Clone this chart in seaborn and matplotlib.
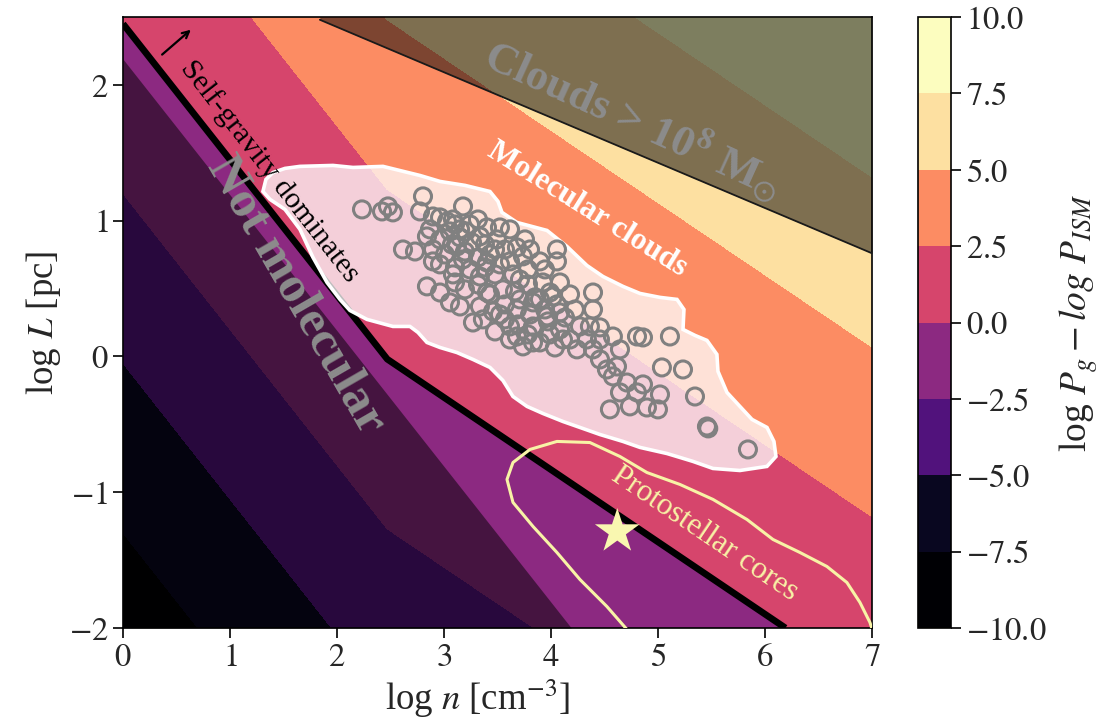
import numpy as np
import matplotlib
matplotlib.use("Agg")
import matplotlib.pyplot as plt
from matplotlib.ticker import FuncFormatter
import seaborn as sns

# ---------------- data ----------------
# pressure-ratio field log P_g - log P_ISM tabulated at grid nodes
grid_logn = [0.0, 2.47, 7.0]
grid_logL = [-2.0, 2.5]
grid_dP = [[-8.9, -3.96, 0.86],
           [0.1, 5.04, 9.86]]
levels = [-10.0, -7.5, -5.0, -2.5, 0.0, 2.5, 5.0, 7.5, 10.0]
level_cmap_pos = [0.0, 0.06, 0.25, 0.40, 0.58, 0.76, 0.935, 1.0]

# "not molecular" boundary (column-density limit)
notmol_logn = [0.0, 4.19]
notmol_logL = [2.19, -2.0]
# 1e8 Msun mass limit
mass_logn = [1.84, 7.0]
mass_logL = [2.48, 0.76]

# molecular cloud sample
cloud_logn = [2.234, 2.421, 2.477, 2.523, 2.804, 2.776, 3.178, 2.963, 3.028, 3.103,
              3.243, 3.318, 3.402, 3.206, 3.056, 2.869, 2.841, 2.963, 3.075, 3.150,
              3.262, 3.383, 3.495, 3.570, 3.682, 2.897, 2.617, 2.729, 3.009, 3.196,
              3.318, 3.430, 3.738, 4.056, 4.056, 3.785, 3.523, 3.617, 2.963, 3.103,
              3.243, 3.383, 3.477, 3.645, 3.944, 2.841, 2.963, 3.103, 3.196, 3.318,
              3.430, 3.551, 3.664, 3.785, 3.925, 3.991, 4.393, 3.850, 3.710, 3.570,
              3.150, 3.271, 3.364, 3.458, 3.682, 3.804, 3.944, 4.056, 4.131, 4.393,
              3.972, 3.850, 3.692, 3.570, 4.271, 4.364, 4.458, 3.682, 3.832, 3.897,
              4.112, 4.243, 4.336, 4.393, 4.458, 4.579, 4.804, 4.860, 5.112, 3.738,
              3.617, 3.991, 4.523, 4.617, 4.579, 4.710, 4.804, 4.645, 4.551, 4.738,
              5.037, 5.234, 4.860, 5.019, 4.897, 5.000, 5.346, 5.458, 5.470, 5.841,
              2.897, 3.084, 3.150, 3.336, 3.121, 2.897, 3.178, 3.402, 3.084, 3.336,
              3.402, 3.056, 3.336, 3.477, 3.804, 3.897, 3.710, 4.084, 3.523, 3.897,
              4.178, 4.224, 4.084, 3.785, 3.477, 4.178, 4.037, 4.645, 4.458, 3.617,
              3.757, 3.523, 4.019, 3.832, 3.963, 4.084, 3.617, 3.832]
cloud_logL = [1.083, 1.068, 1.105, 1.061, 1.179, 1.068, 1.105, 1.024, 0.994, 0.972,
              0.972, 1.009, 0.950, 0.921, 0.921, 0.936, 0.884, 0.862, 0.825, 0.877,
              0.840, 0.825, 0.862, 0.788, 0.803, 0.788, 0.788, 0.773, 0.751, 0.773,
              0.729, 0.751, 0.737, 0.788, 0.700, 0.641, 0.678, 0.700, 0.678, 0.656,
              0.641, 0.656, 0.604, 0.604, 0.641, 0.516, 0.471, 0.545, 0.494, 0.530,
              0.457, 0.494, 0.479, 0.530, 0.545, 0.471, 0.471, 0.435, 0.420, 0.383,
              0.368, 0.250, 0.273, 0.331, 0.346, 0.309, 0.346, 0.383, 0.287, 0.346,
              0.258, 0.214, 0.236, 0.273, 0.221, 0.221, 0.214, 0.147, 0.103, 0.103,
              0.125, 0.052, 0.125, 0.052, 0.125, 0.147, 0.147, 0.140, 0.147, 0.074,
              0.125, 0.162, -0.096, -0.074, -0.147, -0.192, -0.265, -0.265, -0.390, -0.368,
              -0.081, -0.096, -0.206, -0.280, -0.376, -0.390, -0.295, -0.516, -0.530, -0.685,
              1.031, 1.009, 0.936, 0.884, 0.810, 0.700, 0.715, 0.692, 0.604, 0.589,
              0.471, 0.398, 0.368, 0.788, 0.788, 0.700, 0.567, 0.545, 0.309, 0.420,
              0.457, 0.346, 0.199, 0.162, 0.184, 0.125, 0.066, 0.052, -0.022, 0.936,
              0.862, 0.950, 0.442, 0.398, 0.295, 0.324, 0.221, 0.221]

# outline of the molecular-cloud region
region_logn = [1.308, 1.336, 1.402, 1.514, 1.654, 1.963, 2.150, 2.430, 2.776, 2.963,
               3.196, 3.430, 3.505, 3.542, 3.682, 3.963, 4.150, 4.336, 4.486, 4.673,
               4.832, 5.019, 5.178, 5.243, 5.234, 5.346, 5.458, 5.551, 5.561, 5.645,
               5.766, 5.879, 6.019, 6.084, 6.103, 6.019, 5.766, 5.514, 5.327, 5.206,
               5.084, 4.832, 4.673, 4.458, 4.271, 4.112, 3.925, 3.776, 3.645, 3.551,
               3.430, 3.271, 3.121, 2.963, 2.841, 2.757, 2.682, 2.523, 2.280, 2.121,
               2.028, 1.907, 1.776, 1.654, 1.514, 1.374]
region_logL = [1.215, 1.304, 1.355, 1.385, 1.400, 1.407, 1.392, 1.400, 1.333, 1.289,
               1.260, 1.215, 1.142, 1.061, 0.987, 0.928, 0.810, 0.670, 0.589, 0.516,
               0.464, 0.435, 0.420, 0.346, 0.199, 0.155, 0.118, 0.015, -0.110, -0.265,
               -0.368, -0.464, -0.523, -0.626, -0.737, -0.810, -0.840, -0.825, -0.773, -0.744,
               -0.715, -0.670, -0.626, -0.575, -0.523, -0.479, -0.420, -0.368, -0.295, -0.177,
               -0.081, -0.022, 0.029, 0.066, 0.103, 0.177, 0.221, 0.221, 0.273, 0.339,
               0.420, 0.545, 0.729, 0.936, 1.083, 1.157]

# protostellar-core locus
cores_logn = [4.710, 4.523, 4.271, 4.056, 3.832, 3.645, 3.589, 3.645, 3.804, 4.056,
              4.364, 4.645, 4.897, 5.206, 5.514, 5.832, 6.075, 6.327, 6.579, 6.766,
              6.888, 6.981, 7.010]
cores_logL = [-2.011, -1.842, -1.643, -1.444, -1.252, -1.075, -0.906, -0.781, -0.685, -0.626,
              -0.634, -0.737, -0.855, -0.943, -1.053, -1.201, -1.348, -1.444, -1.547, -1.665,
              -1.812, -1.959, -2.030]
star_logn = [4.62]
star_logL = [-1.29]

# ---------------- styling ----------------
sns.set_theme(style="ticks")
plt.rcParams["font.family"] = ["Liberation Serif", "DejaVu Serif"]
plt.rcParams["mathtext.fontset"] = "stix"
plt.rcParams["axes.unicode_minus"] = True

fig = plt.figure(figsize=(11.04, 7.28), dpi=100)
ax = fig.add_axes([0.1114, 0.1374, 0.6784, 0.8392])
cax = fig.add_axes([0.8315, 0.1374, 0.0299, 0.8392])

cmap = sns.color_palette("magma", as_cmap=True)
fill_colors = [cmap(p) for p in level_cmap_pos]

cf = ax.contourf(grid_logn, grid_logL, grid_dP, levels=levels, colors=fill_colors, zorder=1)

# shaded exclusion regions
ax.fill_between(notmol_logn, notmol_logL, -2.0, color="black", alpha=0.5, lw=0, zorder=2)
ax.fill_between(mass_logn, mass_logL, 2.5, color="black", alpha=0.5, lw=0, zorder=2)
sns.lineplot(x=mass_logn, y=mass_logL, ax=ax, color="#1a1a1a", lw=1.3, zorder=3,
             sort=False, estimator=None)

# self-gravity boundary (dP = 0)
ax.contour(grid_logn, grid_logL, grid_dP, levels=[0.0], colors="black", linewidths=4.8, zorder=3)

# molecular cloud region
ax.fill(region_logn, region_logL, facecolor=(1, 1, 1, 0.75), edgecolor="white", lw=2.6, zorder=4)

sns.scatterplot(x=cloud_logn, y=cloud_logL, ax=ax, marker="o", s=150,
                facecolor="none", edgecolor="#808080", linewidth=2.2, zorder=5)

sns.lineplot(x=cores_logn, y=cores_logL, ax=ax, color="#f8f3a6", lw=2.2, sort=False,
             estimator=None, zorder=6)
sns.scatterplot(x=star_logn, y=star_logL, ax=ax, marker="*", s=1150, color="#f9f7b0",
                edgecolor="none", zorder=7)

# annotations
ax.annotate("", xy=(0.654, 2.42), xytext=(0.346, 2.21),
            arrowprops=dict(arrowstyle="->", lw=1.6, color="black"), zorder=8)
ax.text(1.37, 1.36, "Self-gravity dominates", rotation=-52, rotation_mode="anchor",
        ha="center", va="center", fontsize=21.5, color="black", zorder=8)
ax.text(1.62, 0.45, "Not molecular", rotation=-60, rotation_mode="anchor",
        ha="center", va="center", fontsize=37, fontweight="bold", color="#8c8c8c", zorder=8)
ax.text(4.77, 1.75, r"Clouds > 10$^{\mathbf{8}}$ M$_{\odot}$", rotation=-24.5, rotation_mode="anchor",
        ha="center", va="center", fontsize=32, fontweight="bold", color="#8c8c8c", zorder=8)
ax.text(4.34, 1.08, "Molecular clouds", rotation=-32, rotation_mode="anchor",
        ha="center", va="center", fontsize=22.5, fontweight="bold", color="white", zorder=8)
ax.text(5.44, -1.31, "Protostellar cores", rotation=-34, rotation_mode="anchor",
        ha="center", va="center", fontsize=22.5, color="#f8f3a6", zorder=8)

ax.set_xlim(0, 7)
ax.set_ylim(-2, 2.5)
ax.set_xticks(range(0, 8))
ax.set_yticks([-2, -1, 0, 1, 2])
int_fmt = FuncFormatter(lambda v, p: f"${v:g}$")
ax.xaxis.set_major_formatter(int_fmt)
ax.yaxis.set_major_formatter(int_fmt)
ax.tick_params(direction="out", length=7, width=1.2, labelsize=23.5, color="black")
for sp in ax.spines.values():
    sp.set_visible(True)
    sp.set_linewidth(1.2)
    sp.set_color("black")
ax.set_xlabel(r"log $n$ [cm$^{-3}$]", fontsize=26.5)
ax.xaxis.set_label_coords(0.474, -0.082)
ax.set_ylabel(r"log $L$ [pc]", fontsize=26.5, labelpad=4)

cb = fig.colorbar(cf, cax=cax, ticks=levels)
cb.ax.yaxis.set_major_formatter(FuncFormatter(lambda v, p: f"${v:.1f}$"))
cb.ax.tick_params(direction="out", length=7, width=1.2, labelsize=23.5, color="black")
cb.outline.set_linewidth(1.2)
cb.outline.set_edgecolor("black")
cb.set_label(r"log $P_g - log\ P_{ISM}$", fontsize=27, labelpad=8)

fig.savefig("out.png", dpi=100)
